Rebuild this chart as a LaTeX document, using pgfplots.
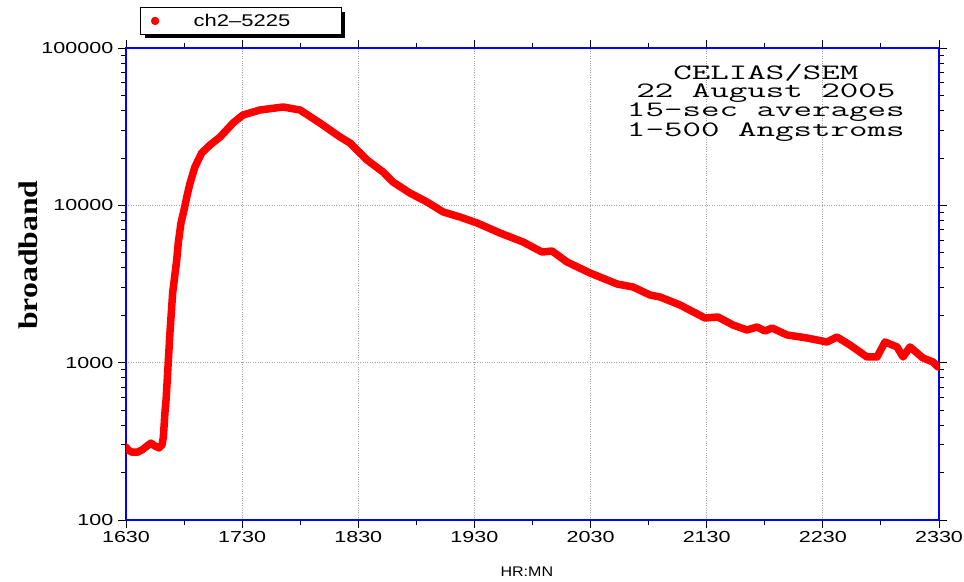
\documentclass[border=0pt]{standalone}
\usepackage{fontspec}
\setmainfont{Liberation Sans}
\newfontfamily\seriffont{Liberation Serif}
\usepackage{pgfplots}
\pgfplotsset{compat=1.18}
\usetikzlibrary{shadows}
\pgfplotstableread{
t v
0 291
1 279
3 270
6 270
8.3 279
10.8 295
12.9 308
15 295
17 287
18.6 300
19.3 337
20.1 479
20.7 579
21.5 860
22.7 1545
24.1 2773
26.2 4495
27.0 5765
28.4 7725
30.0 9375
31.4 11300
33.1 13870
35.6 17540
39.1 21520
43.4 24170
48.6 27180
55.3 33350
60.4 37500
69.2 40360
81.1 42170
89.9 40360
100.2 33350
110.6 27180
115.7 24900
124.5 19420
132.8 16290
137.9 14070
146.7 11970
155.5 10500
163.8 9080
172.5 8430
181.3 7730
193.2 6670
205.1 5850
214.9 5050
220.1 5125
227.8 4365
239.7 3716
253.7 3162
261.9 3027
270.7 2692
275.9 2614
286.2 2326
299.1 1923
305.8 1951
313.6 1735
320.8 1613
326.0 1686
330.1 1589
333.7 1661
341.5 1500
351.8 1435
362.1 1353
367.3 1456
374.0 1295
382.8 1087
388.0 1087
392.1 1353
398.3 1259
401.4 1087
405.0 1259
411.7 1071
416.9 1010
419.5 938
}\flux
\begin{document}
\begin{tikzpicture}
\useasboundingbox (0,0) rectangle (964bp,582bp);
\begin{axis}[
  at={(126bp,62bp)}, anchor=south west,
  scale only axis, width=813bp, height=472bp,
  xmin=0, xmax=420, ymode=log, ymin=100, ymax=100000,
  xtick={0,60,...,420},
  xticklabels={1630,1730,1830,1930,2030,2130,2230,2330},
  minor x tick num=1,
  ytick={100,1000,10000,100000},
  yticklabels={100,1000,10000,100000},
  /pgf/number format/assume math mode=true,
  tick align=outside, tick pos=both,
  major tick length=8bp, minor tick length=5bp,
  axis line style={blue, line width=1.3bp},
  every tick/.style={black, line width=0.9bp},
  grid=major, grid style={gray!70, dotted, line width=0.9bp},
  tick label style={font=\fontsize{16}{16}\selectfont, xscale=1.35},
  xlabel={HR:MN},
  xlabel style={at={(rel axis cs:0.493,-0.11)}, anchor=center, font=\fontsize{14}{14}\selectfont, xscale=1.15},
  ylabel={\scalebox{1.18}[1]{\seriffont\bfseries\fontsize{27}{27}\selectfont broadband}},
  ylabel style={at={(rel axis cs:-0.1205,0.561)}, anchor=center},
  legend style={at={(rel axis cs:0.0172,1.087)}, anchor=north west, draw=black, line width=1.3bp, fill=white,
    drop shadow={shadow xshift=4bp, shadow yshift=-4bp, opacity=1, fill=black},
    font=\fontsize{17}{17}\selectfont, inner xsep=11bp, inner ysep=4.5bp},
]
\addplot[red, line width=7.5bp, mark=none, line join=round, line cap=round, forget plot] table[x=t, y=v] {\flux};
\addlegendimage{red, only marks, mark=*, mark size=3.5bp, mark options={draw=none, fill=red}}
\addlegendentry{\hspace*{33bp}\scalebox{1.3}[1]{ch2--5225}\hspace*{38bp}}
\node[anchor=north, align=center, font=\ttfamily\fontsize{22}{17.7}\selectfont, xscale=1.64, inner sep=0] at (rel axis cs:0.787,0.966) {CELIAS/SEM\\22 August 2005\\15-sec averages\\1-500 Angstroms};
\end{axis}
\end{tikzpicture}
\end{document}
